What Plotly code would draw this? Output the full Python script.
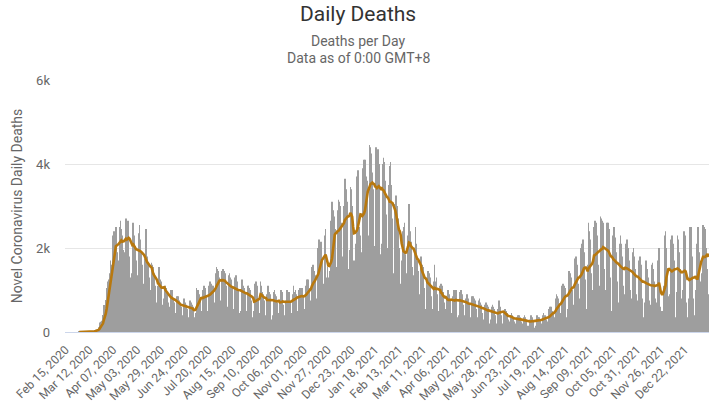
"""Daily deaths chart - bars per day with 7-day moving average."""
import pandas as pd
import plotly.graph_objects as go

# categories: one per day, Feb 15 2020 .. Jan 17 2022
dates = pd.date_range("2020-02-15", "2022-01-17", freq="D")
day_labels = [d.strftime("%b %d, %Y") for d in dates]

# daily deaths, one row per week (Sat .. Fri)
daily_deaths = [
    0, 0, 0, 0, 0, 0, 0,
    0, 0, 0, 0, 0, 0, 0,
    0, 1, 1, 4, 1, 3, 2,
    3, 2, 4, 4, 7, 9, 11,
    10, 12, 18, 23, 41, 56, 49,
    47, 113, 141, 225, 247, 268, 402,
    640, 500, 760, 1050, 1200, 1250, 1400,
    1700, 1500, 1600, 2300, 2400, 2300, 2500,
    1900, 1550, 1700, 2500, 2650, 2450, 2300,
    1950, 1600, 1900, 2700, 2500, 2650, 2400,
    1800, 1300, 1400, 2450, 2600, 2300, 2050,
    1700, 1250, 1350, 2350, 2550, 2200, 1900,
    1600, 1050, 1150, 1750, 2450, 1800, 1650,
    1300, 900, 1000, 1650, 1600, 1550, 1400,
    1100, 650, 700, 1100, 1550, 1250, 1200,
    950, 650, 800, 1050, 1100, 1050, 950,
    700, 400, 600, 1000, 1000, 900, 800,
    700, 350, 450, 850, 850, 750, 700,
    600, 300, 400, 800, 800, 700, 650,
    550, 300, 350, 750, 700, 650, 600,
    350, 250, 450, 1050, 1000, 1000, 900,
    800, 450, 500, 1000, 1100, 1050, 1000,
    850, 500, 550, 1100, 1200, 1150, 1100,
    1100, 650, 700, 1400, 1550, 1500, 1450,
    1300, 700, 750, 1450, 1500, 1450, 1400,
    1100, 550, 600, 1350, 1400, 1300, 1250,
    1050, 450, 550, 1300, 1350, 1200, 1150,
    1000, 450, 500, 1200, 1250, 1100, 1050,
    950, 400, 500, 1100, 1100, 1050, 1000,
    750, 350, 300, 500, 1150, 1200, 1100,
    800, 400, 450, 1200, 1100, 950, 900,
    750, 350, 400, 900, 1100, 950, 900,
    700, 300, 400, 950, 1000, 900, 850,
    700, 350, 450, 700, 1000, 950, 950,
    650, 400, 350, 750, 1000, 900, 950,
    700, 400, 450, 900, 1100, 950, 1000,
    900, 450, 500, 1000, 1050, 1050, 1050,
    850, 450, 550, 1100, 1200, 1250, 1250,
    1050, 600, 750, 1550, 1600, 1450, 1450,
    1350, 800, 1000, 2000, 2200, 2100, 2150,
    1750, 1000, 1150, 2300, 2450, 1300, 1550,
    1300, 950, 1450, 2650, 3100, 2900, 2750,
    2450, 1150, 1550, 2900, 3150, 3100, 3000,
    2600, 1500, 1800, 3000, 3650, 3400, 3100,
    2800, 1500, 1950, 3450, 3400, 3000, 1450,
    1700, 1550, 2100, 3700, 3850, 3600, 2500,
    2300, 1500, 1900, 3900, 4100, 4100, 3700,
    3600, 2100, 2300, 4450, 4400, 4250, 3800,
    3400, 2050, 1900, 4400, 4200, 4350, 4000,
    3200, 1850, 2100, 4000, 4150, 4050, 3600,
    2800, 1800, 2000, 3500, 3950, 4050, 3500,
    2700, 1400, 1650, 3050, 3250, 3000, 2700,
    2000, 1150, 1000, 1700, 2400, 2500, 2600,
    1850, 1200, 1400, 2300, 3050, 2400, 2150,
    1550, 1100, 1350, 1900, 2500, 2100, 1700,
    1450, 700, 900, 1800, 1600, 1550, 1500,
    1050, 550, 750, 1300, 1450, 1400, 1300,
    850, 450, 550, 1200, 1600, 1200, 1300,
    900, 400, 500, 1100, 1150, 1100, 950,
    700, 300, 550, 850, 1000, 1000, 900,
    750, 350, 450, 850, 1000, 950, 1000,
    700, 350, 400, 900, 950, 1000, 900,
    650, 300, 400, 800, 900, 850, 800,
    650, 300, 350, 850, 850, 800, 750,
    550, 250, 350, 750, 800, 700, 650,
    450, 250, 300, 650, 700, 650, 600,
    450, 200, 300, 600, 650, 600, 550,
    400, 200, 150, 550, 750, 650, 600,
    400, 200, 250, 450, 550, 500, 450,
    300, 150, 250, 400, 450, 400, 350,
    250, 150, 200, 350, 400, 400, 350,
    250, 120, 200, 350, 400, 350, 300,
    150, 100, 150, 300, 400, 350, 300,
    250, 100, 150, 350, 400, 350, 350,
    300, 100, 200, 400, 450, 400, 400,
    300, 150, 250, 550, 600, 600, 500,
    450, 200, 350, 800, 900, 850, 800,
    650, 300, 450, 1100, 1150, 1100, 1050,
    800, 350, 550, 1300, 1450, 1400, 1300,
    1000, 400, 650, 1750, 1800, 1700, 1600,
    1150, 450, 800, 2000, 2100, 2200, 1900,
    1250, 500, 550, 1600, 2600, 2400, 2200,
    1400, 650, 1000, 2500, 2650, 2600, 2300,
    1600, 750, 1100, 2750, 2700, 2650, 2600,
    1500, 650, 1000, 2600, 2600, 2450, 2100,
    1300, 500, 900, 2300, 2500, 2250, 1900,
    1200, 450, 700, 2100, 2300, 2100, 1800,
    1100, 400, 900, 2100, 2200, 2000, 1700,
    1000, 400, 800, 1900, 2000, 1800, 1500,
    900, 350, 750, 1700, 1800, 1600, 1400,
    800, 350, 700, 1600, 1700, 1500, 1300,
    750, 300, 650, 1600, 1650, 1500, 1200,
    800, 300, 700, 1700, 2000, 600, 500,
    500, 300, 1100, 2300, 2400, 2000, 1500,
    850, 350, 900, 2200, 2300, 2100, 1700,
    900, 350, 950, 2300, 2200, 1900, 1500,
    800, 300, 1000, 2400, 2300, 1800, 700,
    350, 300, 800, 2500, 2500, 1800, 800,
    400, 300, 1000, 2100, 2500, 2500, 1900,
    1200, 500, 1400, 2550, 2500, 2450, 2000,
    1500, 600, 900,
]

# every 26th day gets a label, up to Dec 22, 2021
x_tick_labels = day_labels[:677:26]
y_ticks = [0, 2000, 4000, 6000]
y_tick_text = ["0", "2k", "4k", "6k"]

# 7-day moving average, only once deaths have started
s = pd.Series(daily_deaths, dtype=float)
ma = s.rolling(7, min_periods=1).mean()
ma[s.cumsum() == 0] = None

fig = go.Figure()
fig.add_trace(go.Bar(
    x=day_labels, y=daily_deaths,
    marker=dict(color="#9e9e9e", line=dict(width=0)),
    name="Daily Deaths",
))
fig.add_trace(go.Scatter(
    x=day_labels, y=ma,
    mode="lines",
    line=dict(color="#B8780E", width=2.6),
    name="7-day moving average",
))

fig.update_layout(
    width=720, height=403,
    margin=dict(l=65, r=11, t=80, b=71),
    paper_bgcolor="white",
    plot_bgcolor="white",
    font=dict(family="Roboto, sans-serif", color="#666666"),
    showlegend=False,
    bargap=0.3,
    annotations=[
        dict(text="Daily Deaths", x=0.455, y=1.262, xref="paper", yref="paper",
             xanchor="center", yanchor="middle", borderpad=0,
             showarrow=False, font=dict(size=21, color="#333333")),
        dict(text="Deaths per Day", x=0.455, y=1.155, xref="paper", yref="paper",
             xanchor="center", yanchor="middle",
             showarrow=False, font=dict(size=14, color="#666666")),
        dict(text="Data as of 0:00 GMT+8", x=0.455, y=1.087, xref="paper", yref="paper",
             xanchor="center", yanchor="middle",
             showarrow=False, font=dict(size=14, color="#666666")),
    ],
)
fig.update_xaxes(
    type="category",
    tickvals=x_tick_labels,
    ticktext=x_tick_labels,
    tickangle=-45,
    tickfont=dict(size=12, color="#666666"),
    ticklabelstandoff=5,
    showgrid=False,
    showline=True, linecolor="#ccd6eb", linewidth=1,
    ticks="",
    automargin=False,
)
fig.update_yaxes(
    range=[0, 6000],
    tickvals=y_ticks,
    ticktext=y_tick_text,
    tickfont=dict(size=13, color="#666666"),
    ticklabelstandoff=14,
    gridcolor="#e6e6e6",
    zeroline=False,
    automargin=False,
    title=dict(text="Novel Coronavirus Daily Deaths", font=dict(size=14, color="#666666"), standoff=10),
)

# drop the page's default 8px body margin so the chart sits at the window corner
fig.write_html(
    "out.html",
    config={"displayModeBar": False},
    post_script="document.body.style.margin='0';",
)
